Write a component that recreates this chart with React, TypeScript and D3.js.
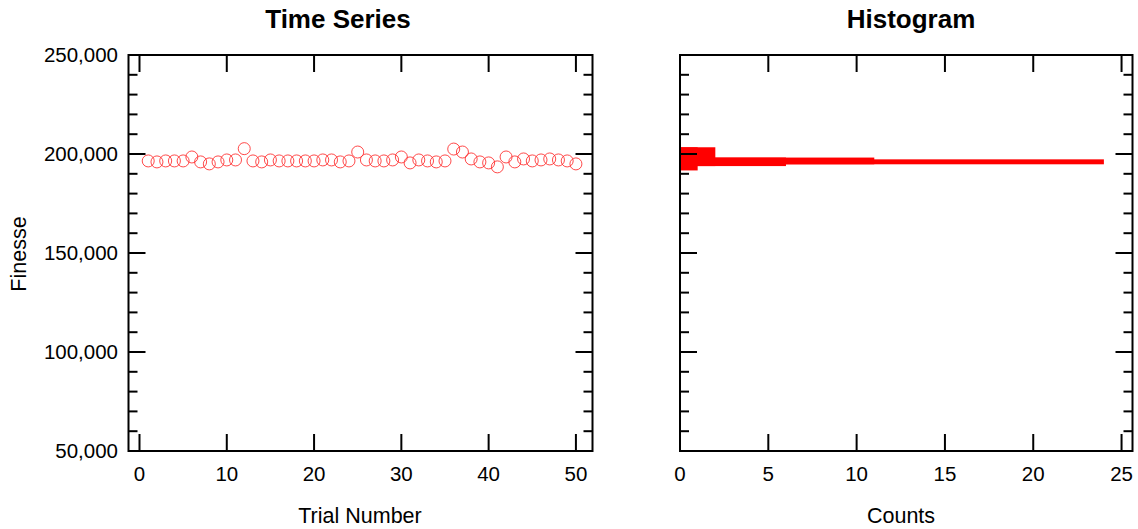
import React from 'react'
import * as d3 from 'd3'

// trial numbers 1..50 and measured finesse per trial
const trials = [
  1, 2, 3, 4, 5, 6, 7, 8, 9, 10, 11, 12, 13, 14, 15, 16, 17, 18, 19, 20, 21, 22, 23, 24, 25,
  26, 27, 28, 29, 30, 31, 32, 33, 34, 35, 36, 37, 38, 39, 40, 41, 42, 43, 44, 45, 46, 47, 48, 49, 50,
]
const finesse = [
  196500, 196000, 196500, 196500, 196500, 198500, 196000, 195000, 196000, 197000,
  197000, 202700, 196500, 196000, 197000, 196500, 196500, 196500, 196500, 196500,
  197000, 197000, 196000, 196500, 201000, 197000, 196500, 196500, 197000, 198500,
  195500, 197000, 196500, 196000, 196500, 202500, 201000, 197500, 196000, 195500,
  193500, 198500, 196000, 197500, 196500, 197000, 197500, 197000, 196500, 195000,
]

// histogram bars: value range and count
const histLow = [191700, 193900, 193900, 194800, 194800]
const histHigh = [203400, 203400, 198200, 198200, 197300]
const histCount = [1, 2, 6, 11, 24]

const yMajorTicks = [50000, 100000, 150000, 200000, 250000]
const trialTicks = [0, 10, 20, 30, 40, 50]
const countTicks = [0, 5, 10, 15, 20, 25]

const FONT = 'Liberation Sans, Arial, Helvetica, sans-serif'
const top = 55
const bottom = 451
const majorLen = 17
const minorLen = 9

const y = d3.scaleLinear().domain([50000, 250000]).range([bottom, top])
const xLeft = d3.scaleLinear().domain([-1.26, 51.9]).range([128.5, 592.5])
const xRight = d3.scaleLinear().domain([0, 25.62]).range([680, 1132.5])
const fmt = d3.format(',')
const minorY = d3.range(50000, 250001, 10000).filter(v => v % 50000 !== 0)

const Frame = ({ x, ticks }: { x: d3.ScaleLinear<number, number>, ticks: number[] }) => {
  const [x0, x1] = x.range()
  return (
    <g stroke="#000" strokeWidth={2} fill="none">
      <rect x={x0} y={top} width={x1 - x0} height={bottom - top} />
      {yMajorTicks.map(v => (
        <g key={`ym${v}`}>
          <line x1={x0} x2={x0 + majorLen} y1={y(v)} y2={y(v)} />
          <line x1={x1} x2={x1 - majorLen} y1={y(v)} y2={y(v)} />
        </g>
      ))}
      {minorY.map(v => (
        <g key={`yn${v}`}>
          <line x1={x0} x2={x0 + minorLen} y1={y(v)} y2={y(v)} />
          <line x1={x1} x2={x1 - minorLen} y1={y(v)} y2={y(v)} />
        </g>
      ))}
      {ticks.map(t => (
        <g key={`x${t}`}>
          <line x1={x(t)} x2={x(t)} y1={bottom} y2={bottom - majorLen} />
          <line x1={x(t)} x2={x(t)} y1={top} y2={top + majorLen} />
        </g>
      ))}
    </g>
  )
}

const App = () => (
  <svg
    width={1138}
    height={529}
    style={{ position: 'absolute', left: 0, top: 0, background: '#fff' }}
    fontFamily={FONT}
  >
    {/* titles */}
    <text x={338} y={28} textAnchor="middle" fontSize={26} fontWeight="bold">Time Series</text>
    <text x={911} y={28} textAnchor="middle" fontSize={26} fontWeight="bold">Histogram</text>

    {/* time series points */}
    <g fill="none" stroke="#ff2a2a" strokeWidth={1} strokeOpacity={0.85}>
      {trials.map((t, i) => (
        <circle key={t} cx={xLeft(t)} cy={y(finesse[i])} r={6} />
      ))}
    </g>

    {/* histogram bars */}
    <g fill="#ff0000">
      {histCount.map((c, i) => (
        <rect
          key={i}
          x={xRight(0)}
          y={y(histHigh[i])}
          width={xRight(c) - xRight(0)}
          height={y(histLow[i]) - y(histHigh[i])}
        />
      ))}
    </g>

    <Frame x={xLeft} ticks={trialTicks} />
    <Frame x={xRight} ticks={countTicks} />

    {/* y tick labels */}
    <g fontSize={20.5} textAnchor="end">
      {yMajorTicks.map(v => (
        <text key={v} x={118} y={y(v)} dy="0.35em">{fmt(v)}</text>
      ))}
    </g>

    {/* x tick labels */}
    <g fontSize={20.5} textAnchor="middle">
      {trialTicks.map(t => (
        <text key={`l${t}`} x={xLeft(t)} y={481}>{t}</text>
      ))}
      {countTicks.map(t => (
        <text key={`r${t}`} x={xRight(t)} y={481}>{t}</text>
      ))}
    </g>

    {/* axis labels */}
    <text x={360} y={523} textAnchor="middle" fontSize={21.5}>Trial Number</text>
    <text x={901} y={523} textAnchor="middle" fontSize={21.5}>Counts</text>
    <text transform="translate(26,254) rotate(-90)" textAnchor="middle" fontSize={21.5}>Finesse</text>
  </svg>
)

export default App
